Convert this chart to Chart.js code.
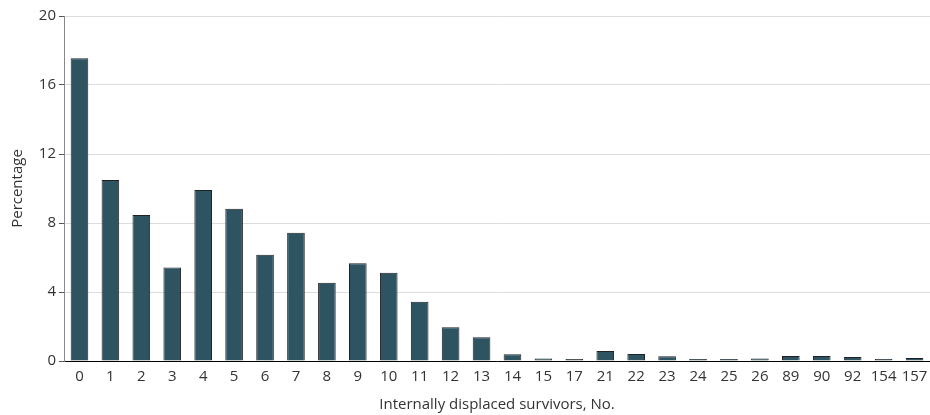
<!DOCTYPE html>
<html>
<head>
<meta charset="utf-8">
<script src="https://cdn.jsdelivr.net/npm/chart.js@4.4.0/dist/chart.umd.min.js"></script>
<style>
  html, body { margin: 0; padding: 0; background: #fff; }
  #wrap { width: 930px; height: 415px; }
</style>
</head>
<body>
<div id="wrap"><canvas id="survivors-chart"></canvas></div>
<script>
const categories = ['0', '1', '2', '3', '4', '5', '6', '7', '8', '9', '10', '11', '12', '13',
  '14', '15', '17', '21', '22', '23', '24', '25', '26', '89', '90', '92', '154', '157'];
const percentages = [17.55, 10.5, 8.47, 5.42, 9.92, 8.82, 6.16, 7.43, 4.53, 5.67, 5.11, 3.43, 1.95, 1.37,
  0.39, 0.15, 0.06, 0.58, 0.4, 0.27, 0.12, 0.12, 0.15, 0.29, 0.29, 0.23, 0.05, 0.17];
const yTicks = [0, 4, 8, 12, 16, 20];

Chart.defaults.font.family = 'Open Sans';
Chart.defaults.font.size = 15;
Chart.defaults.color = '#333';

new Chart(document.getElementById('survivors-chart'), {
  type: 'bar',
  data: {
    labels: categories,
    datasets: [{
      label: 'Percentage',
      data: percentages,
      backgroundColor: '#2e5462',
      borderColor: '#1e2224',
      borderWidth: 1,
      minBarLength: 2,
      barPercentage: 0.57,
      categoryPercentage: 1.0,
    }]
  },
  options: {
    responsive: true,
    maintainAspectRatio: false,
    animation: false,
    layout: { padding: { top: 16, right: 0, bottom: 1, left: 5 } },
    plugins: {
      legend: { display: false },
      tooltip: { enabled: false },
    },
    scales: {
      x: {
        // the last label would otherwise push the plot in from the right edge
        afterFit: (axis) => { axis.paddingLeft = 0; axis.paddingRight = 0; },
        grid: { display: false, drawTicks: false },
        border: { color: '#000', width: 1 },
        ticks: { padding: 7, maxRotation: 0, autoSkip: false },
        title: { display: true, text: 'Internally displaced survivors, No.', padding: { top: 3, bottom: 0 } },
      },
      y: {
        min: 0,
        max: 20,
        afterBuildTicks: (axis) => { axis.ticks = yTicks.map(v => ({ value: v })); },
        afterFit: (axis) => { axis.width = 59; },
        grid: { color: '#dcdcdc', tickColor: '#555', tickLength: 5 },
        border: { color: '#888', width: 1 },
        ticks: { padding: 3 },
        title: { display: true, text: 'Percentage', padding: { top: 4, bottom: 4 } },
      }
    }
  }
});
</script>
</body>
</html>
